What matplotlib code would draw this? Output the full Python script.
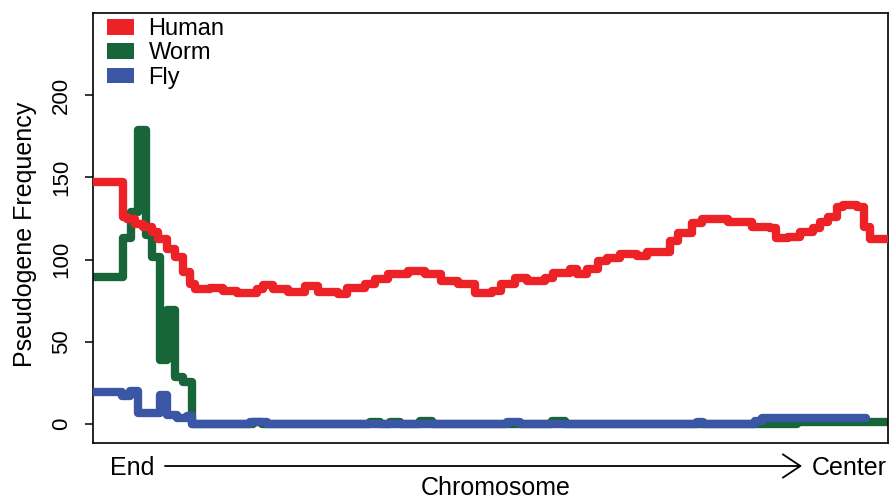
import numpy as np
import matplotlib.pyplot as plt
from matplotlib.patches import Patch

# position along the chromosome arm, 0 = end, 100 = center
human_x = [0, 3.8, 4.3, 5.3, 6.3, 7.4, 8.2, 9.3, 10.3, 11.3, 12.2, 12.8, 14.7, 16.4,
           18.1, 20.6, 21.4, 22.6, 24.5, 26.7, 28.3, 30.8, 31.9, 34.2, 35.5, 37.1,
           39.6, 41.8, 43.8, 45.9, 48.1, 50.2, 51.3, 53.1, 54.6, 56.9, 57.9, 60.0,
           60.9, 62.1, 63.5, 64.7, 66.3, 68.4, 69.7, 72.6, 73.6, 75.3, 76.6, 77.2,
           79.9, 82.9, 85.2, 85.9, 87.4, 88.9, 90.6, 91.4, 92.5, 93.6, 94.3, 96.1,
           97.0, 97.7, 100]
human_y = [147, 126, 124.8, 121.7, 119.7, 116.7, 112.6, 106.5, 101.4, 92.3, 85.2, 82.1,
           82.7, 81.1, 79.5, 82, 84.8, 82, 80.6, 83.7, 80.6, 79, 82.5, 85, 88, 91, 93,
           91.5, 87, 85, 80, 81, 85, 89, 86.8, 89, 92, 94, 91, 94.5, 99, 101, 103.6,
           102.4, 104.5, 111.6, 116, 122, 124.4, 124.8, 122.7, 119.7, 119, 113, 113.6,
           117, 119, 122.7, 125.8, 132, 133.5, 132, 120, 112.6, 112.6]

worm_x = [0, 3.8, 4.8, 5.7, 6.7, 7.4, 8.4, 9.3, 10.3, 11.3, 12.5, 20.1, 21.3, 34.8,
          36.1, 37.4, 38.6, 41.1, 42.6, 57.7, 59.4, 88.6, 100]
worm_y = [89.5, 112.9, 129, 178.7, 114.9, 101.7, 38.9, 69.3, 28.8, 25.7, 0, 1, 0, 1,
          0, 1, 0, 2, 0, 2, 0, 1, 1]

fly_x = [0, 3.6, 4.7, 5.7, 8.4, 9.3, 10.6, 11.8, 12.5, 19.7, 21.9, 52.1, 53.7, 76.0,
         76.7, 83.3, 84.2, 97.2]
fly_y = [19.6, 17, 20, 6.5, 17.6, 5.5, 3.5, 5, 0, 1, 0, 1.5, 0, 1, 0, 2, 4, 4]

species = ['Human', 'Worm', 'Fly']
colors = ['#ED2226', '#18653A', '#3A56A5']
yticks = [0, 50, 100, 150, 200]

plt.rcParams['font.family'] = ['Liberation Sans', 'DejaVu Sans']

fig = plt.figure(figsize=(8.89, 4.99), dpi=100)
ax = fig.add_axes([0.1046, 0.1122, 0.8943, 0.862])

line_kw = dict(drawstyle='steps-post', lw=6, solid_capstyle='round',
               solid_joinstyle='round')
ax.plot(worm_x, worm_y, color=colors[1], zorder=2, **line_kw)
ax.plot(fly_x, fly_y, color=colors[2], zorder=3, **line_kw)
ax.plot(human_x, human_y, color=colors[0], zorder=4, **line_kw)

ax.set_xlim(0, 100)
ax.set_ylim(-11.5, 250)
ax.set_xticks([])
ax.set_yticks(yticks)
ax.set_yticklabels([str(v) for v in yticks], rotation=90, va='center', fontsize=16)
ax.tick_params(axis='y', length=6, width=1.1, pad=9)
for s in ax.spines.values():
    s.set_linewidth(1.2)

handles = [Patch(facecolor=c, edgecolor='none') for c in colors]
ax.legend(handles, species, loc='upper left', bbox_to_anchor=(0.018, 0.988),
          frameon=False, fontsize=17, handlelength=1.15, handleheight=0.65,
          handletextpad=0.6, labelspacing=0.1, borderpad=0, borderaxespad=0)

fig.text(0.028, 0.53, 'Pseudogene Frequency', rotation=90, ha='center',
         va='center', fontsize=18)
fig.text(110 / 889, 0.048, 'End', ha='left', va='baseline', fontsize=18)
fig.text(0.998, 0.048, 'Center', ha='right', va='baseline', fontsize=18)
fig.text(0.558, 0.008, 'Chromosome', ha='center', va='baseline', fontsize=18)
ax.annotate('', xy=(802 / 889, 1 - 466 / 499), xytext=(165 / 889, 1 - 466 / 499),
            xycoords='figure fraction', textcoords='figure fraction',
            arrowprops=dict(arrowstyle='->,head_length=0.9,head_width=0.6',
                            lw=1.3, color='black', shrinkA=0, shrinkB=0,
                            mutation_scale=14))

fig.savefig('out.png', dpi=100)
